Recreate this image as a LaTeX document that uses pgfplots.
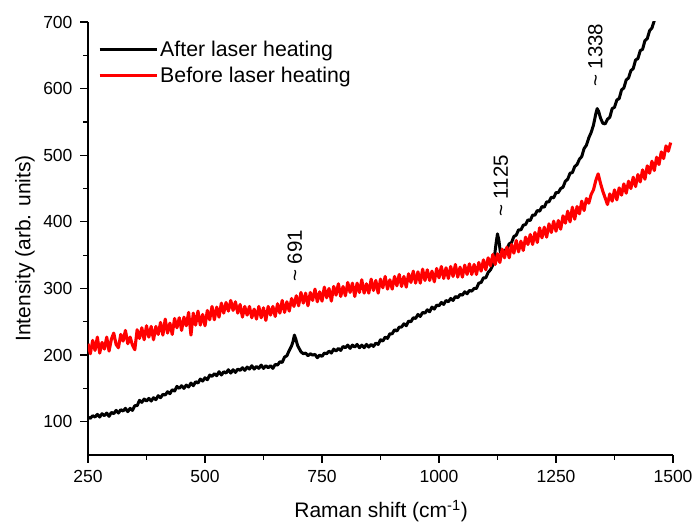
\documentclass[border=0pt]{standalone}
\usepackage{fontspec}
\setmainfont{Liberation Sans}
\usepackage{pgfplots}
\pgfplotsset{compat=1.18}
\begin{document}
\begin{tikzpicture}
\useasboundingbox (-88pt,-69pt) rectangle (605pt,455pt);
\begin{axis}[
  at={(0pt,0pt)}, anchor=south west,
  width=585pt, height=433pt, scale only axis,
  xmin=250, xmax=1500, ymin=50, ymax=700,
  axis x line*=bottom, axis y line*=left,
  axis line style={line width=1.3pt,-},
  xtick={250,500,750,1000,1250,1500}, minor x tick num=1,
  ytick={100,200,300,400,500,600,700}, minor y tick num=1,
  tick align=outside,
  major tick length=8pt, minor tick length=5pt,
  every tick/.style={line width=1.2pt, black},
  tick label style={font=\fontsize{17.5}{20}\selectfont},
  x tick label style={yshift=-4pt},
  y tick label style={xshift=-4pt},
  /pgf/number format/assume math mode=true,
  /pgf/number format/1000 sep={},
  xlabel={Raman shift (cm\textsuperscript{-1})},
  ylabel={Intensity (arb. units)},
  label style={font=\fontsize{21}{25}\selectfont},
  xlabel style={at={(axis description cs:0.501,-0.1293)}, anchor=center},
  ylabel style={at={(axis description cs:-0.1077,0.477)}, anchor=center},
  legend style={at={(axis description cs:0.012,0.966)}, anchor=north west,
    draw=none, fill=none, font=\fontsize{21.3}{25}\selectfont, row sep=5pt},
  legend cell align=left,
  legend image code/.code={\draw[line width=3pt] (0pt,0pt) -- (57pt,0pt);},
  clip=true,
]
\addplot[black, line width=3pt, line join=round] coordinates {
(250,107) (255,105) (260,109) (265,107) (270,111) (275,107) (280,112) (285,109) (290,113) (295,108)
(300,114) (305,112) (310,117) (315,113) (320,118) (325,116) (330,120) (335,115) (340,120) (345,117)
(350,124) (355,124) (360,132) (365,129) (370,134) (375,131) (380,135) (385,131) (390,136) (395,133)
(400,139) (405,136) (410,141) (415,140) (420,145) (425,142) (430,148) (435,146) (440,153) (445,150)
(450,154) (455,150) (460,155) (465,152) (470,158) (475,154) (480,160) (485,158) (490,164) (495,161)
(500,166) (505,163) (510,170) (515,168) (520,172) (525,169) (530,175) (535,170) (540,175) (545,173)
(550,178) (555,173) (560,178) (565,174) (570,179) (575,177) (580,181) (585,177) (590,182) (595,179)
(600,184) (605,179) (610,183) (615,180) (620,185) (625,180) (630,184) (635,181) (640,184) (645,180)
(650,186) (655,185) (660,190) (665,189) (670,197) (675,199) (680,207) (685,214) (688,220) (691,230)
(694,224) (698,214) (705,205) (710,202) (715,203) (720,199) (725,202) (730,200) (735,201) (740,196)
(745,200) (750,198) (755,203) (760,202) (765,206) (770,203) (775,209) (780,206) (785,210) (790,207)
(795,213) (800,211) (805,215) (810,210) (815,215) (820,212) (825,216) (830,211) (835,215) (840,211)
(845,216) (850,212) (855,216) (860,213) (865,218) (870,216) (875,223) (880,221) (885,227) (890,225)
(895,232) (900,232) (905,238) (910,236) (915,242) (920,242) (925,247) (930,244) (935,251) (940,250)
(945,256) (950,255) (955,261) (960,258) (965,264) (970,263) (975,268) (980,265) (985,272) (990,269)
(995,275) (1000,274) (1005,279) (1010,276) (1015,282) (1020,280) (1025,285) (1030,282) (1035,288) (1040,286)
(1045,291) (1050,290) (1055,295) (1060,292) (1065,297) (1070,296) (1075,300) (1080,300) (1085,308) (1090,309)
(1095,316) (1100,316) (1105,324) (1110,328) (1115,335) (1118,345) (1122,368) (1125,382) (1128,372) (1131,355)
(1135,350) (1140,357) (1145,359) (1150,367) (1155,369) (1160,378) (1165,380) (1170,388) (1175,388) (1180,395)
(1185,396) (1190,403) (1195,402) (1200,410) (1205,410) (1210,417) (1215,416) (1220,423) (1225,422) (1230,430)
(1235,430) (1240,437) (1245,436) (1250,444) (1255,444) (1260,450) (1265,452) (1270,461) (1275,464) (1280,473)
(1285,474) (1290,483) (1295,486) (1300,494) (1305,498) (1310,510) (1315,515) (1320,526) (1325,534) (1330,545)
(1335,562) (1338,570) (1341,566) (1345,556) (1350,548) (1355,547) (1360,554) (1365,557) (1370,570) (1375,572)
(1380,583) (1385,585) (1390,598) (1395,601) (1400,613) (1405,616) (1410,627) (1415,630) (1420,643) (1425,645)
(1430,657) (1435,659) (1440,672) (1445,675) (1450,687) (1455,691) (1460,702)
};
\addlegendentry{After laser heating}
\addplot[red, line width=3.1pt, line join=round] coordinates {
(250,217) (255,202) (260,222) (265,207) (270,227) (275,203) (280,219) (285,209) (290,227) (295,206)
(300,224) (305,233) (310,216) (315,211) (320,231) (325,221) (330,237) (335,217) (340,227) (345,215)
(350,208) (355,238) (360,225) (365,241) (370,223) (375,244) (380,227) (385,243) (390,223) (395,243)
(400,231) (405,249) (410,230) (415,254) (420,233) (425,248) (430,231) (435,255) (440,241) (445,256)
(450,237) (455,257) (460,244) (465,264) (470,230) (475,263) (480,245) (485,266) (490,245) (495,261)
(500,244) (505,267) (510,253) (515,273) (520,253) (525,272) (530,257) (535,278) (540,263) (545,279)
(550,266) (555,282) (560,267) (565,280) (570,263) (575,276) (580,257) (585,273) (590,260) (595,273)
(600,256) (605,269) (610,254) (615,273) (620,256) (625,271) (630,252) (635,273) (640,260) (645,273)
(650,258) (655,277) (660,263) (665,282) (670,264) (675,280) (680,266) (685,285) (690,273) (695,289)
(700,274) (705,294) (710,278) (715,293) (720,274) (725,294) (730,282) (735,299) (740,280) (745,295)
(750,281) (755,302) (760,286) (765,300) (770,281) (775,303) (780,290) (785,307) (790,288) (795,303)
(800,289) (805,309) (810,294) (815,308) (820,288) (825,308) (830,294) (835,313) (840,293) (845,307)
(850,293) (855,314) (860,297) (865,312) (870,293) (875,314) (880,301) (885,318) (890,299) (895,313)
(900,299) (905,318) (910,304) (915,321) (920,303) (925,318) (930,302) (935,322) (940,309) (945,326)
(950,308) (955,325) (960,308) (965,329) (970,312) (975,328) (980,312) (985,326) (990,310) (995,330)
(1000,316) (1005,333) (1010,315) (1015,331) (1020,315) (1025,333) (1030,318) (1035,336) (1040,317) (1045,332)
(1050,317) (1055,335) (1060,321) (1065,337) (1070,321) (1075,336) (1080,321) (1085,339) (1090,326) (1095,343)
(1100,328) (1105,346) (1110,334) (1115,351) (1120,336) (1125,352) (1130,339) (1135,359) (1140,346) (1145,362)
(1150,346) (1155,366) (1160,353) (1165,372) (1170,355) (1175,371) (1180,357) (1185,377) (1190,366) (1195,381)
(1200,366) (1205,384) (1210,369) (1215,391) (1220,376) (1225,392) (1230,377) (1235,397) (1240,384) (1245,401)
(1250,386) (1255,402) (1260,389) (1265,409) (1270,398) (1275,416) (1280,400) (1285,422) (1290,404) (1295,423)
(1300,412) (1305,431) (1310,417) (1315,435) (1320,428) (1325,441) (1330,448) (1335,462) (1340,472) (1345,458)
(1350,446) (1355,436) (1360,426) (1365,442) (1370,431) (1375,448) (1380,433) (1385,451) (1390,440) (1395,457)
(1400,443) (1405,461) (1410,450) (1415,467) (1420,453) (1425,471) (1430,460) (1435,478) (1440,464) (1445,484)
(1450,473) (1455,491) (1460,477) (1465,497) (1470,486) (1475,505) (1480,495) (1485,514) (1490,506) (1495,519)
};
\addlegendentry{Before laser heating}
\node[rotate=90, font=\fontsize{20.5}{24}\selectfont] at (axis cs:692,349) {\textasciitilde\ 691};
\node[rotate=90, font=\fontsize{20.5}{24}\selectfont] at (axis cs:1132,454) {\textasciitilde\ 1125};
\node[rotate=90, font=\fontsize{20.5}{24}\selectfont] at (axis cs:1334,650) {\textasciitilde\ 1338};
\end{axis}
\end{tikzpicture}
\end{document}
